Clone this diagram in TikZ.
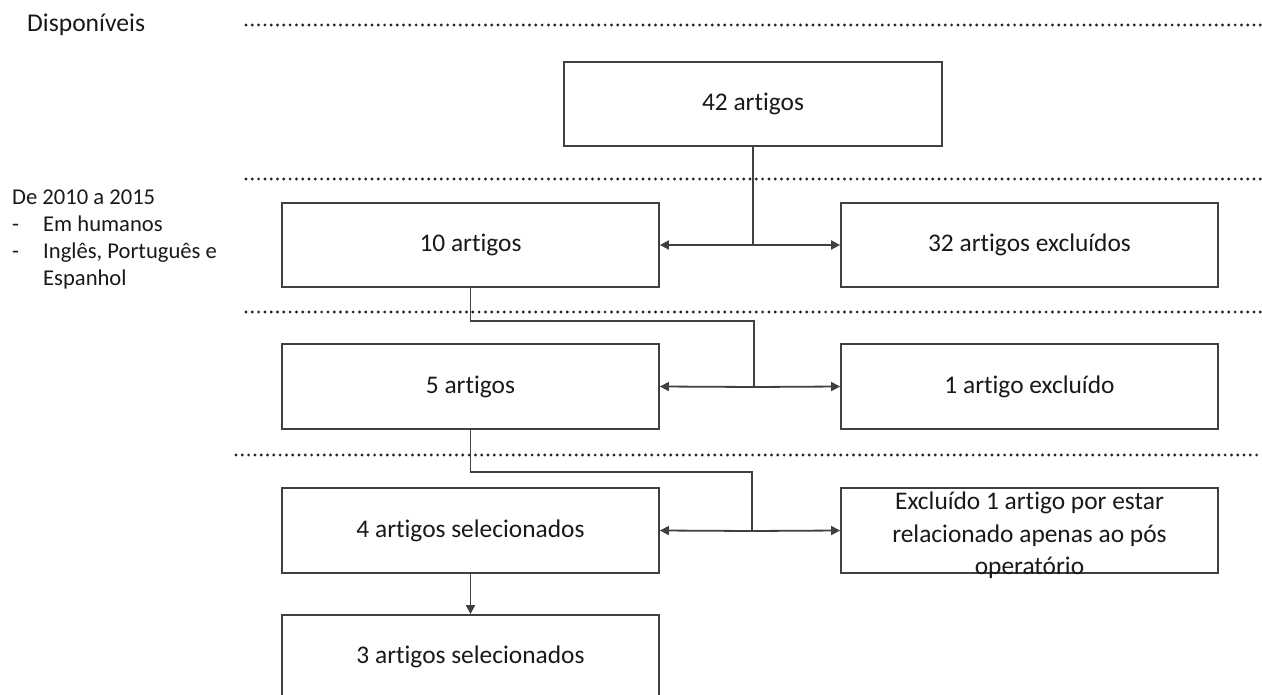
\documentclass[tikz,border=0pt]{standalone}
\usepackage{fontspec}
\setmainfont{Carlito}[Ligatures={NoCommon}]
\usetikzlibrary{arrows.meta}
\begin{document}
\begin{tikzpicture}[x=1pt,y=-1pt,
  box/.style={draw=black!75, line width=1.8pt, fill=white, minimum width=377pt, minimum height=84pt, inner sep=0pt, font=\fontsize{25.4}{33}\selectfont, text=black!90},
  lbl/.style={inner sep=0pt, font=\fontsize{25.4}{32.5}\selectfont, text=black!90, align=center},
  side/.style={inner sep=0pt, anchor=base west, font=\fontsize{22.6}{27}\selectfont, text=black!90},
  dotline/.style={line width=3.2pt, dash pattern=on 0pt off 6.3pt, line cap=round, black!85},
  conn/.style={draw=black!75, line width=1.8pt},
  arr/.style={conn, -{Triangle[length=9pt,width=9pt]}}]
\useasboundingbox (0,0) rectangle (1262,695);
% dotted separators
\draw[dotline] (246,25) -- (1262,25);
\draw[dotline] (246,179) -- (1262,179);
\draw[dotline] (246,312) -- (1262,312);
\draw[dotline] (236,455) -- (1262,455);
% left texts
\node[side, font=\fontsize{25.6}{30}\selectfont] (disp) at (27,32) {Disponíveis};
\node[side] (cr1) at (12,205) {De 2010 a 2015};
\node[side] (d1) at (12,232) {-};
\node[side] (cr2) at (43,232) {Em humanos};
\node[side] (d2) at (12,259) {-};
\node[side] (cr3) at (43,259) {Inglês, Português e};
\node[side] (cr4) at (43,286) {Espanhol};
% boxes
\node[box, minimum width=378pt] (b42) at (753,104) {42 artigos};
\node[box] (b10) at (470.5,245) {10 artigos};
\node[box] (b32) at (1029.5,245) {32 artigos excluídos};
\node[box, minimum height=85pt] (b5) at (470.5,386.5) {5 artigos};
\node[box, minimum height=85pt] (b1) at (1029.5,386.5) {1 artigo excluído};
\node[box, minimum height=85pt] (b4) at (470.5,530.5) {4 artigos selecionados};
\node[box, minimum height=85pt] (bE) at (1029.5,530.5) {};
\node[lbl] (tE) at (1029.5,535.5) {Excluído 1 artigo por estar\\relacionado apenas ao pós\\operatório};
\node[box] (b3) at (470.5,657) {3 artigos selecionados};
% connectors
\coordinate (m0) at (753,245);
\draw[conn] (b42.south) -- (m0);
\draw[arr] (m0) -- (b10.east);
\draw[arr] (m0) -- (b32.west);
\coordinate (k1) at (754,321);
\coordinate (m1) at (754,387);
\draw[conn] (b10.south) |- (k1) -- (m1);
\draw[arr] (m1) -- (b5.east);
\draw[arr] (m1) -- (b1.west);
\coordinate (k2) at (752,472);
\coordinate (m2) at (752,531);
\draw[conn] (b5.south) |- (k2) -- (m2);
\draw[arr] (m2) -- (b4.east);
\draw[arr] (m2) -- (bE.west);
\draw[arr] (b4.south) -- (b3.north);
\end{tikzpicture}
\end{document}
